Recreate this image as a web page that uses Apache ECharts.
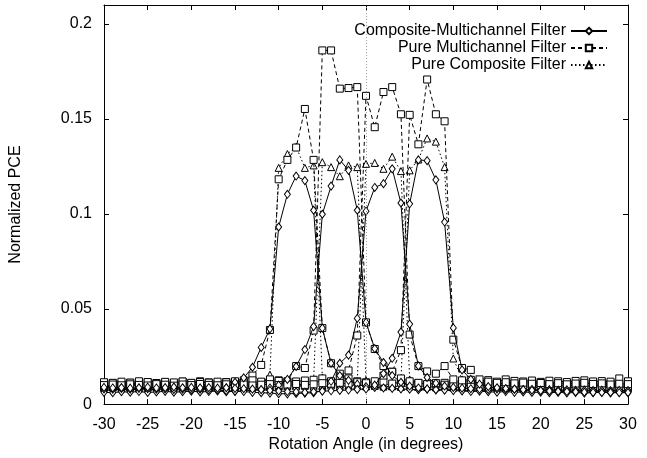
<!DOCTYPE html>
<html>
<head>
<meta charset="utf-8">
<script src="https://cdn.jsdelivr.net/npm/echarts@6/dist/echarts.min.js"></script>
<style>html,body{margin:0;padding:0;background:#fff}#c{width:647px;height:458px}</style>
</head>
<body>
<div id="c"></div>
<script>
var angles = [-30,-29,-28,-27,-26,-25,-24,-23,-22,-21,-20,-19,-18,-17,-16,-15,-14,-13,-12,-11,-10,-9,-8,-7,-6,-5,-4,-3,-2,-1,0,1,2,3,4,5,6,7,8,9,10,11,12,13,14,15,16,17,18,19,20,21,22,23,24,25,26,27,28,29,30];
var xTicks = [-30,-25,-20,-15,-10,-5,0,5,10,15,20,25,30];
var yTicks = [0,0.05,0.1,0.15,0.2];
var seriesNames = ['Composite-Multichannel Filter','Pure Multichannel Filter','Pure Composite Filter'];

// Composite-Multichannel Filter (4 training windows)
var cmA = [0.0072,0.0075,0.0078,0.0074,0.0080,0.0077,0.0079,0.0082,0.0078,0.0081,0.0076,0.0083,0.0080,0.0078,0.0085,
  0.0115,0.0138,0.0194,0.0298,0.0396,0.0932,0.1104,0.1200,0.1176,0.1020,0.0400,0.0215,0.0150,0.0125,0.0105,
  0.0092,0.0088,0.0085,0.0083,0.0080,0.0078,0.0076,0.0079,0.0075,0.0074,0.0077,0.0073,0.0072,0.0075,0.0071,0.0074,0.0070,0.0073,0.0069,0.0072,0.0070,0.0068,0.0071,0.0069,0.0067,0.0070,0.0068,0.0066,0.0069,0.0067,0.0068];
var cmB = [0.0062,0.0060,0.0065,0.0063,0.0066,0.0061,0.0064,0.0067,0.0063,0.0065,0.0068,0.0064,0.0066,0.0069,0.0065,0.0067,0.0070,0.0072,0.0075,0.0085,0.0100,
  0.0130,0.0198,0.0287,0.0408,0.0999,0.1147,0.1285,0.1230,0.1020,0.0430,0.0292,0.0219,0.0150,0.0115,0.0095,
  0.0085,0.0080,0.0076,0.0074,0.0071,0.0069,0.0066,0.0068,0.0065,0.0063,0.0066,0.0062,0.0064,0.0061,0.0063,0.0060,0.0062,0.0059,0.0061,0.0058,0.0060,0.0062,0.0059,0.0061,0.0060];
var cmC = [0.0080,0.0078,0.0082,0.0079,0.0083,0.0081,0.0078,0.0080,0.0077,0.0079,0.0076,0.0078,0.0075,0.0073,0.0071,0.0068,0.0066,0.0062,0.0060,0.0058,0.0055,0.0054,0.0056,0.0058,0.0060,
  0.0070,0.0120,0.0215,0.0258,0.0451,0.1015,0.1140,0.1160,0.1238,0.1058,0.0421,0.0201,0.0140,0.0110,0.0095,
  0.0088,0.0084,0.0081,0.0079,0.0077,0.0080,0.0076,0.0078,0.0075,0.0077,0.0074,0.0076,0.0073,0.0075,0.0072,0.0074,0.0071,0.0073,0.0070,0.0072,0.0071];
var cmD = [0.0088,0.0085,0.0087,0.0084,0.0086,0.0089,0.0085,0.0087,0.0090,0.0086,0.0088,0.0085,0.0087,0.0084,0.0086,0.0083,0.0081,0.0079,0.0076,0.0072,0.0069,0.0066,0.0064,0.0062,0.0065,0.0068,0.0070,0.0072,0.0074,0.0077,0.0080,
  0.0100,0.0160,0.0241,0.0379,0.1054,0.1285,0.1281,0.1180,0.0958,0.0401,0.0180,0.0130,0.0105,
  0.0092,0.0086,0.0082,0.0079,0.0076,0.0073,0.0071,0.0069,0.0067,0.0066,0.0064,0.0063,0.0062,0.0061,0.0062,0.0060,0.0061];

// Pure Multichannel Filter
var pmA = [0.0105,0.0110,0.0108,0.0112,0.0106,0.0115,0.0109,0.0113,0.0107,0.0118,0.0111,0.0120,0.0114,0.0109,0.0116,0.0112,0.0125,
  0.0150,0.0206,0.0390,0.1183,0.1285,0.1350,0.1553,0.1285,0.0400,0.0215,0.0160,0.0135,
  0.0120,0.0115,0.0110,0.0118,0.0108,0.0113,0.0106,0.0111,0.0104,0.0109,0.0112,0.0105,0.0110,0.0103,0.0108,0.0112,0.0106,0.0110,0.0104,0.0109,0.0113,0.0107,0.0102,0.0108,0.0111,0.0105,0.0109,0.0103,0.0107,0.0110,0.0104,0.0108];
var pmB = [0.0095,0.0098,0.0102,0.0097,0.0100,0.0096,0.0103,0.0099,0.0101,0.0098,0.0108,0.0100,0.0104,0.0099,0.0106,0.0102,0.0110,0.0105,0.0112,0.0118,0.0125,
  0.0120,0.0200,0.0190,0.0387,0.1861,0.1861,0.1660,0.1663,0.1668,0.0430,0.0290,0.0200,0.0170,0.0135,
  0.0120,0.0112,0.0105,0.0110,0.0102,0.0106,0.0100,0.0104,0.0098,0.0102,0.0097,0.0101,0.0096,0.0100,0.0095,0.0099,0.0097,0.0094,0.0098,0.0096,0.0093,0.0097,0.0095,0.0092,0.0096,0.0094];
var pmC = [0.0115,0.0112,0.0118,0.0113,0.0120,0.0116,0.0111,0.0117,0.0114,0.0119,0.0112,0.0116,0.0113,0.0118,0.0115,0.0120,0.0114,0.0125,0.0118,0.0130,0.0122,0.0115,0.0119,0.0124,0.0128,0.0135,
  0.0120,0.0140,0.0177,0.0361,0.1622,0.1457,0.1642,0.1668,0.1525,0.0366,0.0200,0.0172,0.0160,0.0200,0.0130,
  0.0125,0.0128,0.0120,0.0126,0.0118,0.0130,0.0122,0.0119,0.0124,0.0117,0.0123,0.0120,0.0116,0.0122,0.0125,0.0119,0.0121,0.0118,0.0135,0.0120];
var pmD = [0.0100,0.0103,0.0099,0.0104,0.0101,0.0098,0.0105,0.0102,0.0097,0.0103,0.0100,0.0106,0.0101,0.0099,0.0104,0.0100,0.0103,0.0098,0.0102,0.0105,0.0100,0.0103,0.0106,0.0101,0.0104,0.0110,0.0107,0.0112,0.0108,0.0115,0.0110,
  0.0120,0.0150,0.0170,0.0284,0.1522,0.1367,0.1708,0.1525,0.1488,0.0339,0.0190,0.0180,0.0130,
  0.0118,0.0112,0.0115,0.0109,0.0113,0.0107,0.0111,0.0105,0.0110,0.0104,0.0108,0.0112,0.0106,0.0109,0.0103,0.0107,0.0105];

// Pure Composite Filter
var pcA = [0.0092,0.0089,0.0094,0.0090,0.0093,0.0088,0.0095,0.0091,0.0094,0.0089,0.0096,0.0092,0.0095,0.0090,0.0097,0.0093,0.0098,0.0100,0.0105,
  0.0155,0.1243,0.1316,0.1354,0.1243,0.1256,0.0140,
  0.0110,0.0102,0.0098,0.0095,0.0093,0.0096,0.0092,0.0094,0.0091,0.0093,0.0090,0.0092,0.0089,0.0091,0.0088,0.0090,0.0092,0.0089,0.0091,0.0088,0.0090,0.0087,0.0089,0.0091,0.0088,0.0090,0.0087,0.0089,0.0086,0.0088,0.0090,0.0087,0.0089,0.0086,0.0088];
var pcB = [0.0085,0.0088,0.0084,0.0087,0.0083,0.0086,0.0089,0.0085,0.0087,0.0084,0.0088,0.0085,0.0087,0.0090,0.0086,0.0088,0.0091,0.0087,0.0090,0.0093,0.0096,0.0094,0.0098,0.0102,
  0.0120,0.1273,0.1247,0.1199,0.1256,0.1247,0.0125,
  0.0105,0.0098,0.0095,0.0092,0.0094,0.0090,0.0093,0.0089,0.0091,0.0088,0.0090,0.0087,0.0089,0.0086,0.0088,0.0085,0.0087,0.0084,0.0086,0.0088,0.0085,0.0087,0.0084,0.0086,0.0083,0.0085,0.0087,0.0084,0.0086,0.0085];
var pcC = [0.0098,0.0095,0.0099,0.0096,0.0100,0.0097,0.0101,0.0098,0.0096,0.0100,0.0097,0.0101,0.0099,0.0102,0.0098,0.0100,0.0097,0.0103,0.0099,0.0101,0.0098,0.0102,0.0100,0.0104,0.0101,0.0099,0.0103,0.0106,0.0110,
  0.0120,0.1264,0.1269,0.1238,0.1302,0.1226,0.0130,
  0.0112,0.0105,0.0102,0.0099,0.0101,0.0098,0.0100,0.0097,0.0099,0.0096,0.0098,0.0100,0.0097,0.0099,0.0096,0.0098,0.0095,0.0097,0.0099,0.0096,0.0098,0.0095,0.0097,0.0094,0.0096];
var pcD = [0.0090,0.0093,0.0089,0.0092,0.0088,0.0091,0.0094,0.0090,0.0093,0.0089,0.0092,0.0095,0.0091,0.0094,0.0090,0.0093,0.0096,0.0092,0.0095,0.0091,0.0094,0.0097,0.0093,0.0096,0.0092,0.0095,0.0098,0.0094,0.0097,0.0100,0.0096,0.0099,0.0102,0.0106,
  0.0120,0.1230,0.1287,0.1398,0.1381,0.1247,0.0240,0.0130,
  0.0112,0.0105,0.0101,0.0098,0.0100,0.0097,0.0099,0.0096,0.0098,0.0095,0.0097,0.0094,0.0096,0.0098,0.0095,0.0097,0.0094,0.0096,0.0095];

var FONT = '"Liberation Sans", Arial, Helvetica, sans-serif';

function mk(name, vals, symbol, size, dash, z) {
  return {
    type: 'line', name: name,
    data: angles.map(function (a, i) { return [a, vals[i]]; }),
    symbol: symbol, symbolSize: size, showSymbol: true,
    lineStyle: { color: '#000', width: 1, type: dash },
    itemStyle: { color: '#fff', borderColor: '#000', borderWidth: 1 },
    emphasis: { disabled: true },
    animation: false, z: z
  };
}

var series = [];
[pcA, pcB, pcC, pcD].forEach(function (v) { series.push(mk(seriesNames[2], v, 'triangle', 7, [1.5, 2.5], 2)); });
[pmA, pmB, pmC, pmD].forEach(function (v) { series.push(mk(seriesNames[1], v, 'rect', 7, [4, 3], 3)); });
[cmA, cmB, cmC, cmD].forEach(function (v) { series.push(mk(seriesNames[0], v, 'diamond', [6, 8], 'solid', 4)); });
series[0].markLine = {
  silent: true, symbol: 'none', label: { show: false }, animation: false,
  lineStyle: { color: '#999', type: [1, 2], width: 1 },
  data: [{ xAxis: 0 }]
};

var axisCommonX = {
  type: 'value', min: xTicks[0], max: xTicks[xTicks.length - 1], interval: xTicks[1] - xTicks[0],
  splitLine: { show: false },
  axisLine: { show: true, onZero: false, lineStyle: { color: '#000', width: 1 } },
  axisTick: { show: true, inside: true, length: 5, lineStyle: { color: '#000' } }
};
var axisCommonY = {
  type: 'value', min: yTicks[0], max: 0.21, interval: yTicks[1] - yTicks[0],
  splitLine: { show: false },
  axisLine: { show: true, onZero: false, lineStyle: { color: '#000', width: 1 } },
  axisTick: { show: true, inside: true, length: 5, lineStyle: { color: '#000' } }
};

var chart = echarts.init(document.getElementById('c'), null, { renderer: 'canvas' });
chart.setOption({
  backgroundColor: '#fff',
  animation: false,
  textStyle: { fontFamily: FONT },
  grid: { left: 103, right: 19, top: 5, bottom: 46, containLabel: false },
  legend: {
    data: seriesNames, orient: 'vertical', right: 34, top: 18, align: 'right',
    itemWidth: 36, itemHeight: 8, itemGap: 1,
    textStyle: { fontSize: 16, color: '#000', fontFamily: FONT, lineHeight: 16 },
    selectedMode: false
  },
  xAxis: [
    Object.assign({}, axisCommonX, {
      position: 'bottom',
      axisLabel: { show: true, color: '#000', fontSize: 16, margin: 12, fontFamily: FONT },
      name: 'Rotation Angle (in degrees)', nameLocation: 'middle', nameGap: 24,
      nameTextStyle: { fontSize: 16, color: '#000', fontFamily: FONT }
    }),
    Object.assign({}, axisCommonX, { position: 'top', axisLabel: { show: false } })
  ],
  yAxis: [
    Object.assign({}, axisCommonY, {
      position: 'left',
      axisLabel: { show: true, color: '#000', fontSize: 16, margin: 12, showMaxLabel: false, fontFamily: FONT },
      name: 'Normalized PCE', nameLocation: 'middle', nameGap: 80,
      nameTextStyle: { fontSize: 16, color: '#000', fontFamily: FONT }
    }),
    Object.assign({}, axisCommonY, { position: 'right', axisLabel: { show: false } })
  ],
  series: series
});
</script>
</body>
</html>
